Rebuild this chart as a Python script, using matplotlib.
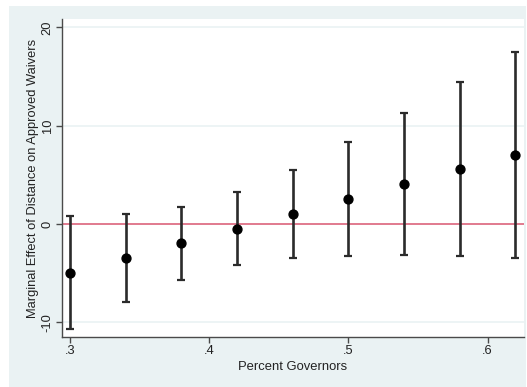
import numpy as np
import matplotlib.pyplot as plt
from matplotlib.patches import Rectangle

plt.rcParams['font.family'] = ['Liberation Sans', 'DejaVu Sans']

# marginal effect estimates with 95% bounds
pct_gov = [0.30, 0.34, 0.38, 0.42, 0.46, 0.50, 0.54, 0.58, 0.62]
effect = [-4.96, -3.43, -1.94, -0.48, 1.05, 2.55, 4.04, 5.57, 7.03]
upper = [0.81, 1.05, 1.73, 3.26, 5.50, 8.29, 11.27, 14.40, 17.52]
lower = [-10.7, -7.98, -5.67, -4.21, -3.43, -3.23, -3.19, -3.29, -3.43]

xticks = [0.3, 0.4, 0.5, 0.6]
xticklabels = ['.3', '.4', '.5', '.6']
yticks = [-10, 0, 10, 20]

bg = '#EAF2F3'
axcol = '#4a4a4a'

fig = plt.figure(figsize=(5.27, 3.87), dpi=100)
fig.patch.set_facecolor('white')
fig.patches.append(Rectangle((9 / 527, 0), (525.7 - 9) / 527, (387 - 6) / 387,
                             transform=fig.transFigure, facecolor=bg,
                             edgecolor='none', zorder=-10))

ax = fig.add_axes([62 / 527, 50 / 387, (524 - 62) / 527, (337 - 19) / 387])
ax.set_facecolor('white')

for g in [-10, 10, 20]:
    ax.axhline(g, color=bg, lw=1.2, zorder=0)
ax.axhline(0, color='#D95670', lw=1.1, zorder=1)

eff = np.array(effect)
yerr = [eff - np.array(lower), np.array(upper) - eff]
ax.errorbar(pct_gov, effect, yerr=yerr, fmt='o', color='black',
            ecolor='#2b2b2b', elinewidth=1.9, capsize=2.6, capthick=1.6,
            markersize=6.4, zorder=3)

ax.set_xlim(0.2941, 0.6262)
ax.set_ylim(-11.5, 20.85)
ax.set_xticks(xticks)
ax.set_xticklabels(xticklabels)
ax.set_yticks(yticks)
ax.set_yticklabels([str(v) for v in yticks], rotation=90, va='center')

for s in ['top', 'right']:
    ax.spines[s].set_visible(False)
for s in ['left', 'bottom']:
    ax.spines[s].set_color(axcol)
    ax.spines[s].set_linewidth(1.0)
ax.tick_params(direction='out', length=4, width=1, color=axcol,
               labelsize=9.3, labelcolor='#222222', pad=2)

ax.set_xlabel('Percent Governors', fontsize=9.4, color='#222222', labelpad=3)
ax.set_ylabel('Marginal Effect of Distance on Approved Waivers', fontsize=9.3,
              color='#222222', labelpad=2)

fig.savefig('out.png', dpi=100, facecolor=fig.get_facecolor())
